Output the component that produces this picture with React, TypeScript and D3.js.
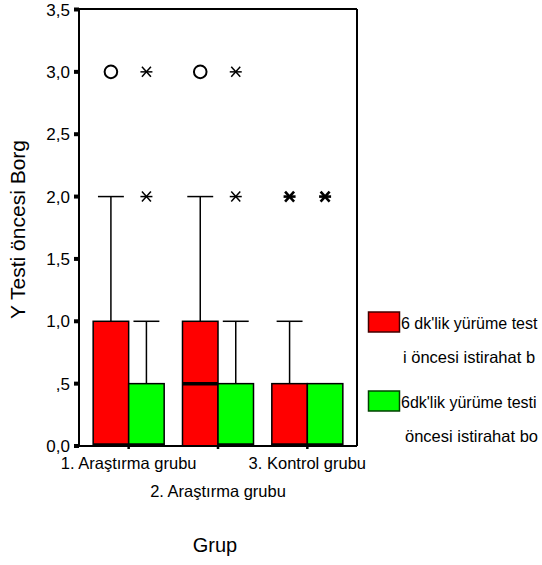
import React from "react";
import * as d3 from "d3";

const groups = ["1. Araştırma grubu", "2. Araştırma grubu", "3. Kontrol grubu"];
const labelRows = [0, 1, 0];
const series = ["red", "green"];
const seriesColors = ["#FF0000", "#00FF00"];
const legendLines = [
  ["6 dk'lik yürüme test", "i öncesi istirahat b"],
  ["6dk'lik yürüme testi", "öncesi istirahat bo"],
];
const yTicks = [0, 0.5, 1, 1.5, 2, 2.5, 3, 3.5];
const yTickLabels = ["0,0", ",5", "1,0", "1,5", "2,0", "2,5", "3,0", "3,5"];

// box statistics per series, per group
const q1 = [[0, 0, 0], [0, 0, 0]];
const median = [[0, 0.5, 0], [0, 0, 0]];
const q3 = [[1, 1, 0.5], [0.5, 0.5, 0.5]];
const whiskerHi = [[2, 2, 1], [1, 1, 0.5]];
const whiskerLo = [[0, 0, 0], [0, 0, 0]];
// outliers (circles) and extremes (asterisks) with case counts
const outliers = [[[3], [3], []], [[], [], []]];
const extremes = [[[], [], [2]], [[2, 3], [2, 3], [2]]];
const extremeCounts = [[[], [], [3]], [[1, 1], [1, 1], [3]]];

const W = 542, H = 565;
const plotL = 79, plotR = 357, plotT = 9, plotB = 446;

export default function App() {
  const y = d3.scaleLinear().domain([0, 3.5]).range([plotB, plotT + 0.5]);
  const x = d3.scaleBand<string>().domain(groups).range([84, 352]).padding(0);
  const xs = d3.scaleBand<string>().domain(series).range([0, x.bandwidth()]).paddingInner(0).paddingOuter(0.258);
  const bw = xs.bandwidth();
  const capW = bw * 0.73;

  const star = (cx: number, cy: number, key: string, bold: boolean) => {
    const sw = bold ? 2.6 : 1.5;
    return (
      <g key={key} stroke="#000" strokeWidth={sw}>
        <line x1={cx - 6} x2={cx + 6} y1={cy} y2={cy} />
        <line x1={cx - 4.5} x2={cx + 4.5} y1={cy - 5} y2={cy + 5} />
        <line x1={cx - 4.5} x2={cx + 4.5} y1={cy + 5} y2={cy - 5} />
      </g>
    );
  };

  return (
    <svg width={W} height={H} style={{ position: "absolute", left: 0, top: 0, background: "#fff" }}
      fontFamily="'Liberation Sans', Arial, sans-serif">
      <rect x={0} y={0} width={W} height={H} fill="#fff" />
      {/* boxes */}
      {series.map((s, si) =>
        groups.map((g, gi) => {
          const x0 = (x(g) as number) + (xs(s) as number);
          const cx = x0 + bw / 2;
          return (
            <g key={s + g}>
              {whiskerHi[si][gi] > q3[si][gi] && (
                <g stroke="#000" strokeWidth={1.5}>
                  <line x1={cx} x2={cx} y1={y(q3[si][gi])} y2={y(whiskerHi[si][gi])} />
                  <line x1={cx - capW / 2} x2={cx + capW / 2} y1={y(whiskerHi[si][gi])} y2={y(whiskerHi[si][gi])} />
                </g>
              )}
              {whiskerLo[si][gi] < q1[si][gi] && (
                <g stroke="#000" strokeWidth={1.5}>
                  <line x1={cx} x2={cx} y1={y(q1[si][gi])} y2={y(whiskerLo[si][gi])} />
                  <line x1={cx - capW / 2} x2={cx + capW / 2} y1={y(whiskerLo[si][gi])} y2={y(whiskerLo[si][gi])} />
                </g>
              )}
              <rect x={x0} y={y(q3[si][gi])} width={bw} height={y(q1[si][gi]) - y(q3[si][gi])}
                fill={seriesColors[si]} stroke="#000" strokeWidth={1.5} />
              <line x1={x0} x2={x0 + bw} y1={y(median[si][gi]) - (median[si][gi] === 0 ? 1 : 0)}
                y2={y(median[si][gi]) - (median[si][gi] === 0 ? 1 : 0)} stroke="#000" strokeWidth={3.5} />
              {outliers[si][gi].map((v, k) => (
                <circle key={"o" + k} cx={cx} cy={y(v)} r={6.3} fill="none" stroke="#000" strokeWidth={2} />
              ))}
              {extremes[si][gi].map((v, k) => star(cx, y(v), "e" + k, extremeCounts[si][gi][k] > 1))}
            </g>
          );
        })
      )}
      {/* frame */}
      <g stroke="#000" strokeWidth={2} fill="none">
        <line x1={plotL} x2={plotR} y1={plotT} y2={plotT} />
        <line x1={plotR} x2={plotR} y1={plotT} y2={plotB} />
        <line x1={plotL} x2={plotR} y1={plotB} y2={plotB} />
        <line x1={plotL} x2={plotL} y1={plotT} y2={plotB + 1} />
      </g>
      {/* y ticks */}
      {yTicks.map((t, i) => (
        <g key={t}>
          <line x1={74} x2={plotL} y1={y(t)} y2={y(t)} stroke="#000" strokeWidth={4} />
          <text x={70} y={y(t)} dy="0.36em" textAnchor="end" fontSize={17} fill="#000">{yTickLabels[i]}</text>
        </g>
      ))}
      {/* x ticks */}
      {groups.map((g, i) => {
        const cx = (x(g) as number) + x.bandwidth() / 2;
        return (
          <g key={g}>
            <line x1={cx} x2={cx} y1={plotB} y2={plotB + 3} stroke="#000" strokeWidth={2.5} />
            <text x={cx} y={labelRows[i] === 0 ? 469 : 497} textAnchor="middle" fontSize={16.5} fill="#000">{g}</text>
          </g>
        );
      })}
      {/* axis titles */}
      <text x={215} y={552} textAnchor="middle" fontSize={20} fill="#000">Grup</text>
      <text transform={`translate(25,${(plotT + plotB) / 2 + 2}) rotate(-90)`} textAnchor="middle" fontSize={21} fill="#000">
        Y Testi öncesi Borg
      </text>
      {/* legend */}
      {series.map((s, si) => {
        const top = si === 0 ? 312 : 391;
        return (
          <g key={"lg" + s}>
            <rect x={368.5} y={top} width={31} height={20} fill={seriesColors[si]} stroke={si === 0 ? "#400000" : "#004000"} strokeWidth={1.5} />
            <text x={401} y={top + 17} fontSize={16} fill="#000">{legendLines[si][0]}</text>
            <text x={si === 0 ? 403 : 405} y={top + 51} fontSize={16.5} fill="#000">{legendLines[si][1]}</text>
          </g>
        );
      })}
    </svg>
  );
}
